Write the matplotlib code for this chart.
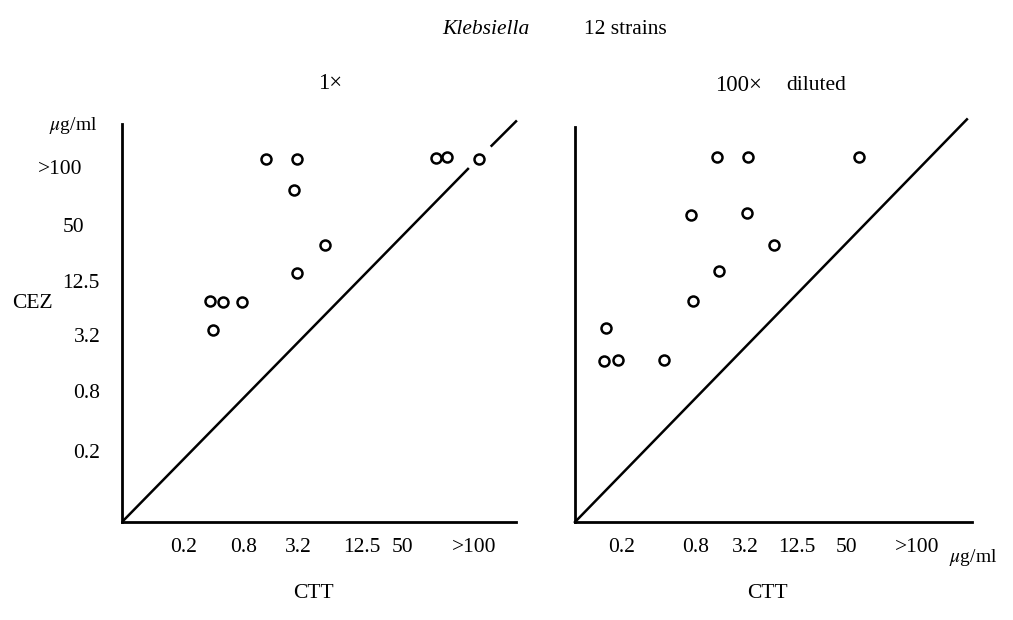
"""Klebsiella, 12 strains: CEZ vs CTT MIC scatter, undiluted and 100x diluted."""
import matplotlib
matplotlib.use("Agg")
import matplotlib.pyplot as plt

plt.rcParams["font.family"] = ["Liberation Serif", "DejaVu Serif"]
plt.rcParams["mathtext.fontset"] = "stix"

# Axis units run 0..100 along each hand-drawn axis (origin = bottom-left corner).
tick_labels = ["0.2", "0.8", "3.2", "12.5", "50", ">100"]

# tick label positions along each axis
left_xticks = [15.7, 31.0, 44.7, 60.9, 71.3, 89.3]
left_yticks = [17.25, 32.25, 46.25, 59.75, 73.75, 88.25]
right_xticks = [11.8, 30.5, 42.8, 55.9, 68.5, 86.1]

# strains, 1x (CTT, CEZ)
ctt_1x = [36.5, 44.3, 43.6, 79.7, 82.4, 90.6, 51.4, 44.4, 22.4, 25.6, 30.5, 23.0]
cez_1x = [90.8, 90.8, 83.1, 91.1, 91.2, 90.9, 69.4, 62.3, 55.3, 55.1, 54.9, 48.1]

# strains, 100x diluted (CTT, CEZ)
ctt_100x = [35.8, 43.5, 71.5, 29.1, 43.2, 50.2, 36.3, 29.6, 7.8, 7.4, 10.8, 22.3]
cez_100x = [91.2, 91.2, 91.2, 76.9, 77.2, 69.25, 62.9, 55.2, 48.4, 40.25, 40.6, 40.4]

FS = 15.5


def setup_axis(ax, top=100.0):
    ax.set_xlim(0, 100)
    ax.set_ylim(0, 100)
    for side in ("top", "right"):
        ax.spines[side].set_visible(False)
    ax.spines["left"].set_linewidth(2.0)
    ax.spines["bottom"].set_linewidth(2.0)
    ax.spines["left"].set_bounds(0, top)
    ax.set_xticks([])
    ax.set_yticks([])
    ax.patch.set_visible(False)


def draw_points(ax, xs, ys):
    ax.plot(xs, ys, "o", ms=7.2, mfc="white", mec="black", mew=1.8,
            clip_on=False, zorder=3)


fig = plt.figure(figsize=(10.13, 6.2), dpi=100)
ax1 = fig.add_axes([0.1204, 0.158, 0.389, 0.645])
ax2 = fig.add_axes([0.5676, 0.158, 0.392, 0.645])

# ---- left panel: 1x
setup_axis(ax1, top=99.5)
ax1.plot([0, 87.8], [0, 88.3], color="black", lw=1.8)
ax1.plot([93.8, 100], [94.1, 100.2], color="black", lw=1.8, clip_on=False)
draw_points(ax1, ctt_1x, cez_1x)
for x, lab in zip(left_xticks, tick_labels):
    ax1.text(x, -6.25, lab, ha="center", va="center", fontsize=FS, clip_on=False)
ytick_x = [-8.9, -8.9, -8.9, -10.4, -12.2, -15.7]
for x, y, lab in zip(ytick_x, left_yticks, tick_labels):
    ax1.text(x, y, lab, ha="center", va="center", fontsize=FS, clip_on=False)
ax1.text(-12.4, 99.25, r"$\mu$g/ml", ha="center", va="center", fontsize=FS - 1.5)
ax1.text(-22.8, 54.75, "CEZ", ha="center", va="center", fontsize=FS)
ax1.text(48.5, -17.75, "CTT", ha="center", va="center", fontsize=FS)
ax1.text(52.8, 109.75, "1×", ha="center", va="center", fontsize=FS + 1)

# ---- right panel: 100x diluted
setup_axis(ax2, top=98.75)
ax2.plot([0, 98.7], [0, 100.7], color="black", lw=1.8, clip_on=False)
draw_points(ax2, ctt_100x, cez_100x)
for x, lab in zip(right_xticks, tick_labels):
    ax2.text(x, -6.25, lab, ha="center", va="center", fontsize=FS, clip_on=False)
ax2.text(100.3, -8.75, r"$\mu$g/ml", ha="center", va="center", fontsize=FS - 1.5)
ax2.text(48.4, -17.75, "CTT", ha="center", va="center", fontsize=FS)
ax2.text(41.3, 109.25, "100×", ha="center", va="center", fontsize=FS + 1)
ax2.text(60.7, 109.25, "diluted", ha="center", va="center", fontsize=FS)

fig.text(0.48, 0.952, "Klebsiella", style="italic", ha="center", va="center", fontsize=FS)
fig.text(0.617, 0.952, "12 strains", ha="center", va="center", fontsize=FS)

fig.savefig("out.png", dpi=100)
